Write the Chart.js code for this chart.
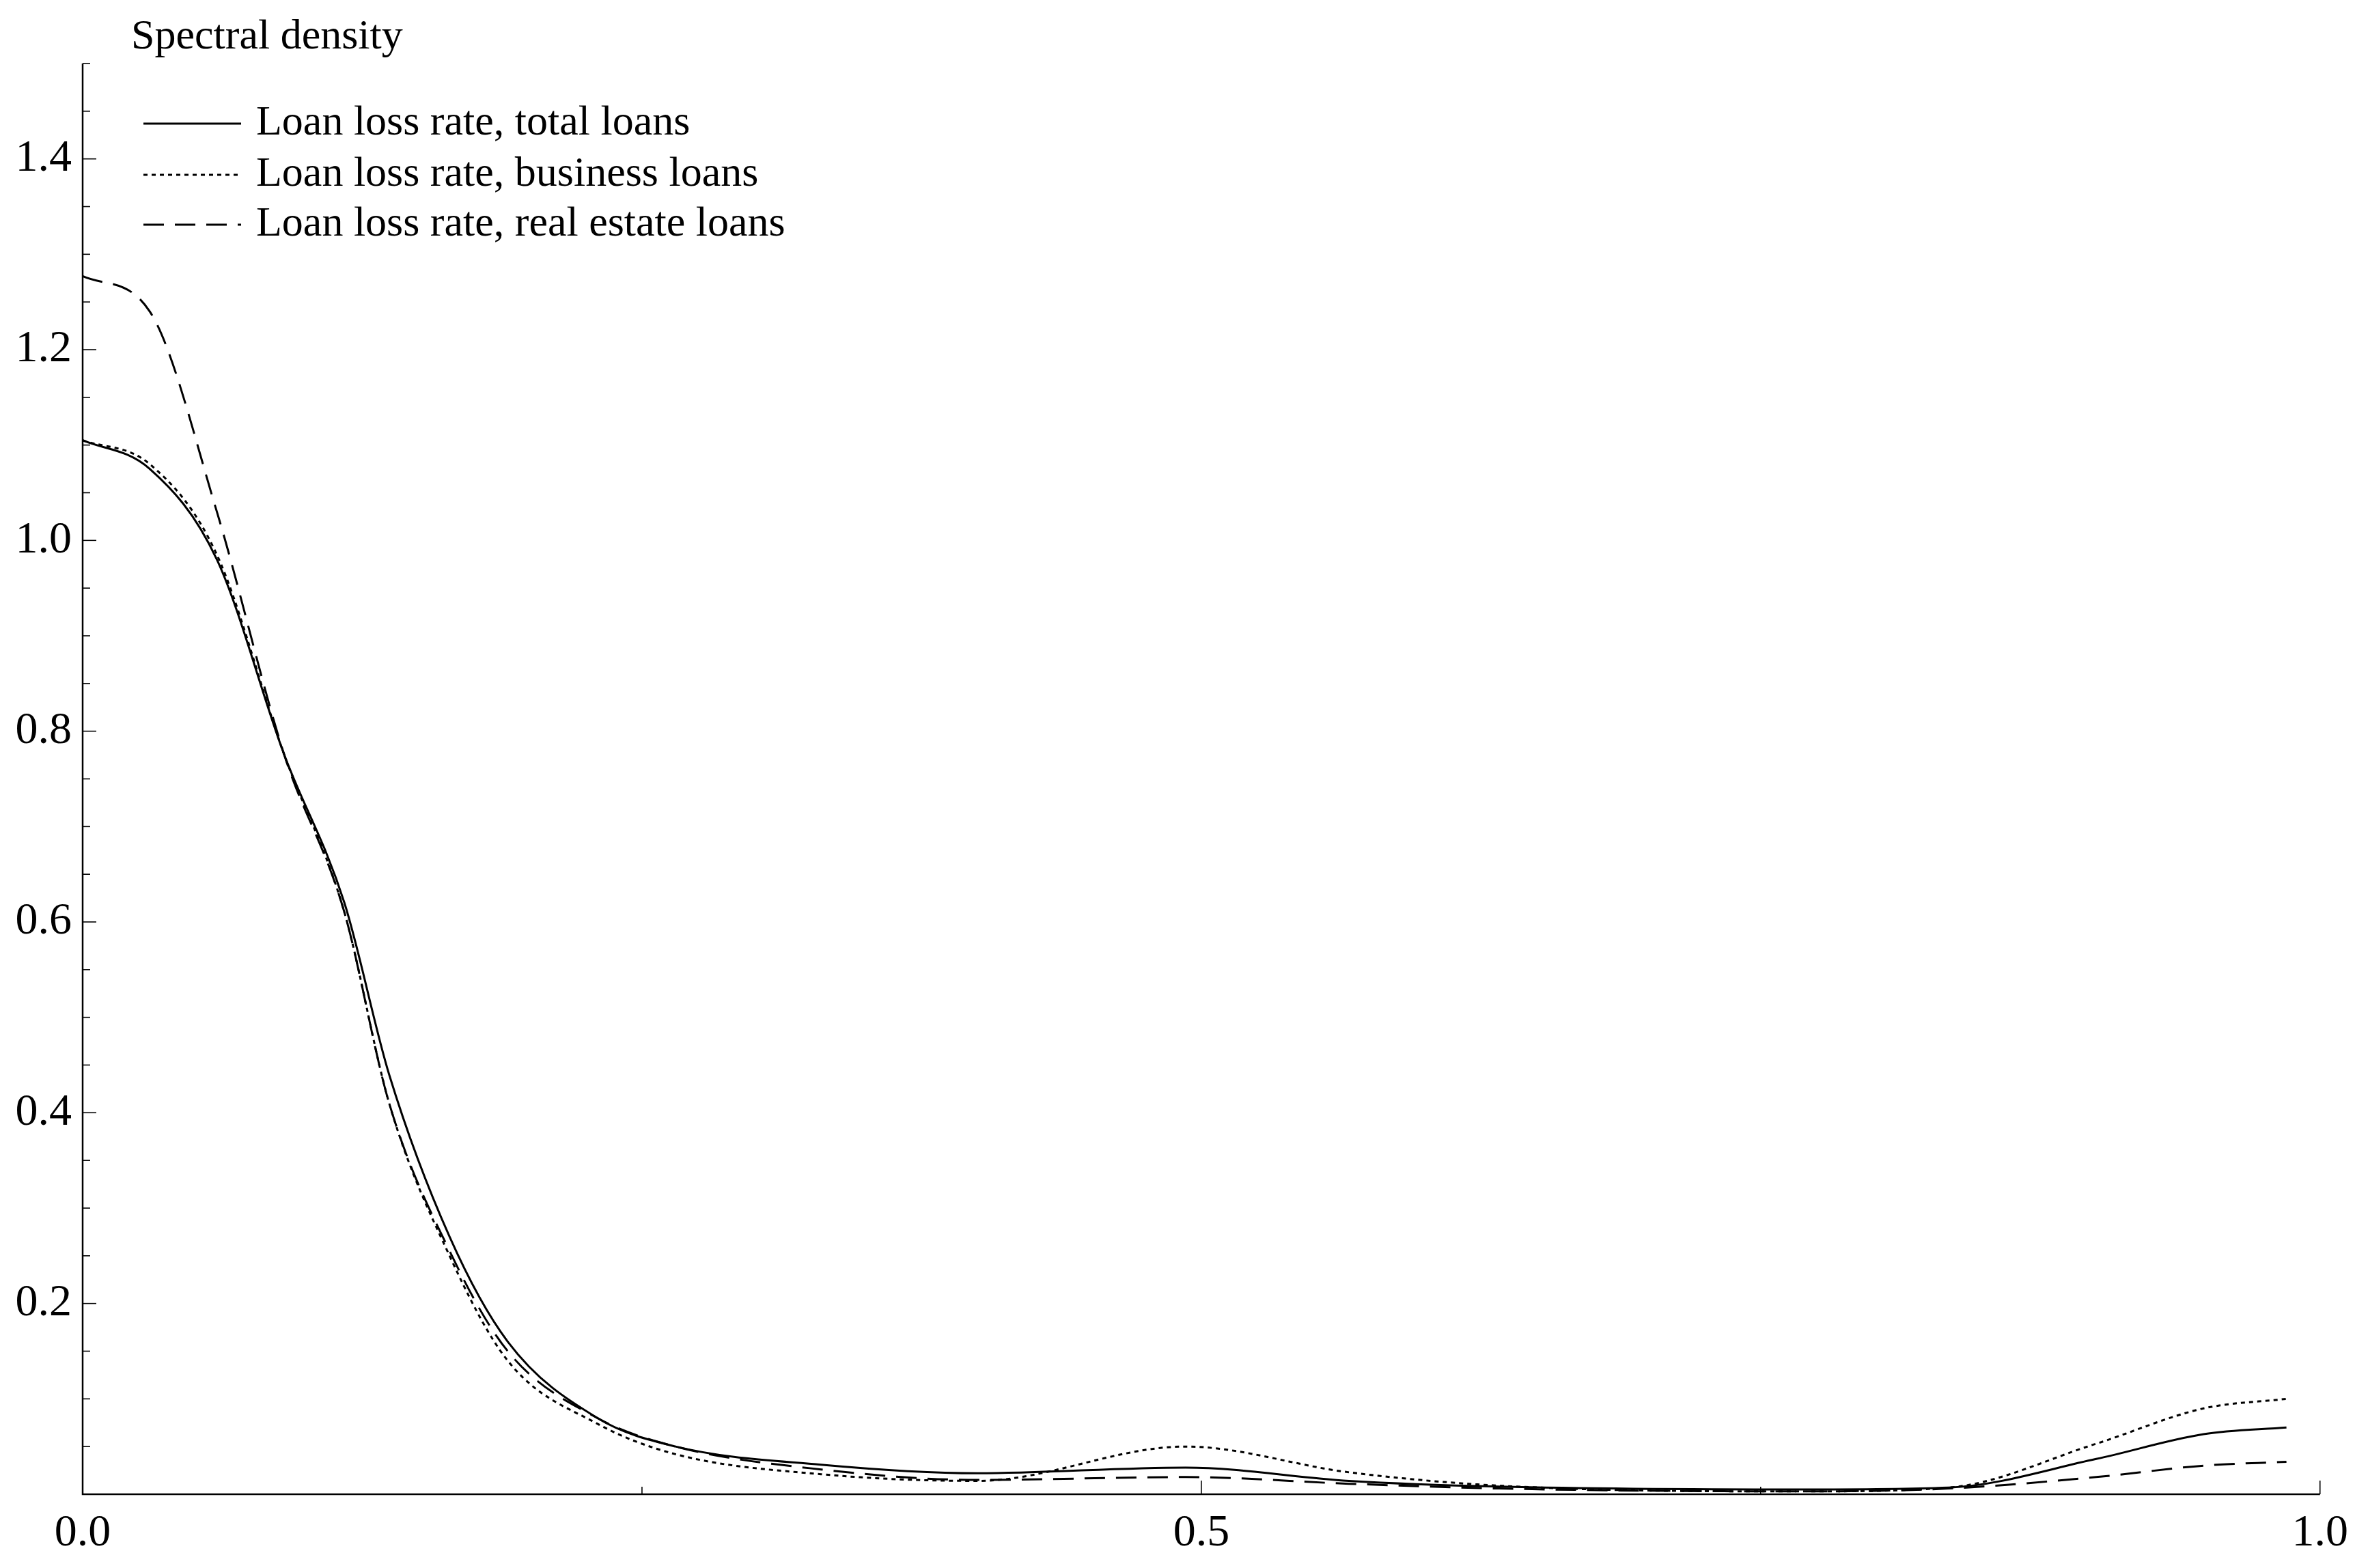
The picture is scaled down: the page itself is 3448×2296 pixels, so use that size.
<!DOCTYPE html>
<html><head><meta charset="utf-8">
<script src="https://cdn.jsdelivr.net/npm/chart.js@4"></script>
<style>html,body{margin:0;padding:0;background:#fff}#c{display:block}</style>
</head><body><canvas id="c" width="3448" height="2296"></canvas>
<script>
const freq   = [0,0.03,0.06,0.09,0.117,0.137,0.164,0.19,0.23,0.265,0.33,0.40,0.493,0.566,0.633,0.767,0.834,0.90,0.948,0.985];
const total  = [1.105,1.075,0.98,0.776,0.62,0.44,0.27,0.16,0.08,0.05,0.031,0.022,0.028,0.014,0.008,0.005,0.007,0.037,0.063,0.07];
const business=[1.105,1.08,0.985,0.776,0.61,0.41,0.25,0.14,0.074,0.042,0.021,0.014,0.05,0.023,0.009,0.003,0.007,0.053,0.09,0.1];
const realEstate=[1.277,1.24,1.03,0.776,0.61,0.41,0.255,0.15,0.08,0.05,0.026,0.015,0.018,0.011,0.006,0.003,0.006,0.018,0.03,0.034];
const labels = ["Loan loss rate, total loans","Loan loss rate, business loans","Loan loss rate, real estate loans"];
const xTickLabels = ["0.0","0.5","1.0"];
const FONT = "'Liberation Serif', 'DejaVu Serif', serif";
const pts = arr => arr.map((v,i)=>({x:freq[i],y:v}));
const dashes = [[],[6,6],[30,16]];
const ticksPlugin = {
  id:'deco',
  afterDraw(chart){
    const c=chart.ctx, x=chart.scales.x, y=chart.scales.y;
    c.save(); c.strokeStyle='#000'; c.fillStyle='#000'; c.lineWidth=2.5;
    const L=x.getPixelForValue(0), B=y.getPixelForValue(0), T=y.getPixelForValue(1.5), R=x.getPixelForValue(1);
    c.beginPath(); c.moveTo(L,T); c.lineTo(L,B); c.lineTo(R,B); c.stroke();
    c.lineWidth=1.6;
    for(let k=1;k<=30;k++){const v=k*0.05; const p=y.getPixelForValue(v); const major=k%4===0;
      c.beginPath(); c.moveTo(L,p); c.lineTo(L+(major?20:11),p); c.stroke();}
    for(let k=1;k<=4;k++){const v=k*0.25; const p=x.getPixelForValue(v); const major=k%2===0;
      c.beginPath(); c.moveTo(p,B); c.lineTo(p,B-(major?20:11)); c.stroke();}
    c.font="62px "+FONT; c.textBaseline='middle'; c.textAlign='left';
    c.fillText("Spectral density",192,55);
    const ds=chart.data.datasets;
    const rows=[181,256,329];
    ds.forEach((d,i)=>{c.setLineDash(dashes[i]); c.lineWidth=3; c.beginPath(); c.moveTo(210,rows[i]); c.lineTo(353,rows[i]); c.stroke();
      c.setLineDash([]); c.fillText(d.label,375,rows[i]);});
    c.restore();
  }
};
new Chart(document.getElementById('c'),{
  type:'line',
  data:{datasets:[total,business,realEstate].map((a,i)=>({label:labels[i],data:pts(a),borderColor:'#000',borderWidth:3,borderDash:dashes[i],pointRadius:0,cubicInterpolationMode:'monotone',fill:false}))},
  options:{responsive:false,animation:false,
    layout:{padding:{left:0,right:35,top:93,bottom:0}},
    plugins:{legend:{display:false},tooltip:{enabled:false}},
    scales:{
      x:{type:'linear',min:0,max:1,border:{display:false},grid:{display:false},
        afterFit(s){s.height=2296-2188;},
        ticks:{stepSize:0.5,color:'#000',font:{family:FONT,size:66},padding:10,callback:(v)=>{const i=[0,0.5,1].indexOf(v);return i>=0?xTickLabels[i]:'';},maxRotation:0}},
      y:{min:0,max:1.5,border:{display:false},grid:{display:false},
        afterFit(s){s.width=121;},
        ticks:{stepSize:0.2,color:'#000',font:{family:FONT,size:66},padding:8,callback:(v)=>{const r=Math.round(v*10)/10; return (r>0 && Math.abs(v-r)<1e-6 && Math.round(r*10)%2===0 && r<1.5)?r.toFixed(1):'';}}}
    }},
  plugins:[ticksPlugin]
});
</script></body></html>
